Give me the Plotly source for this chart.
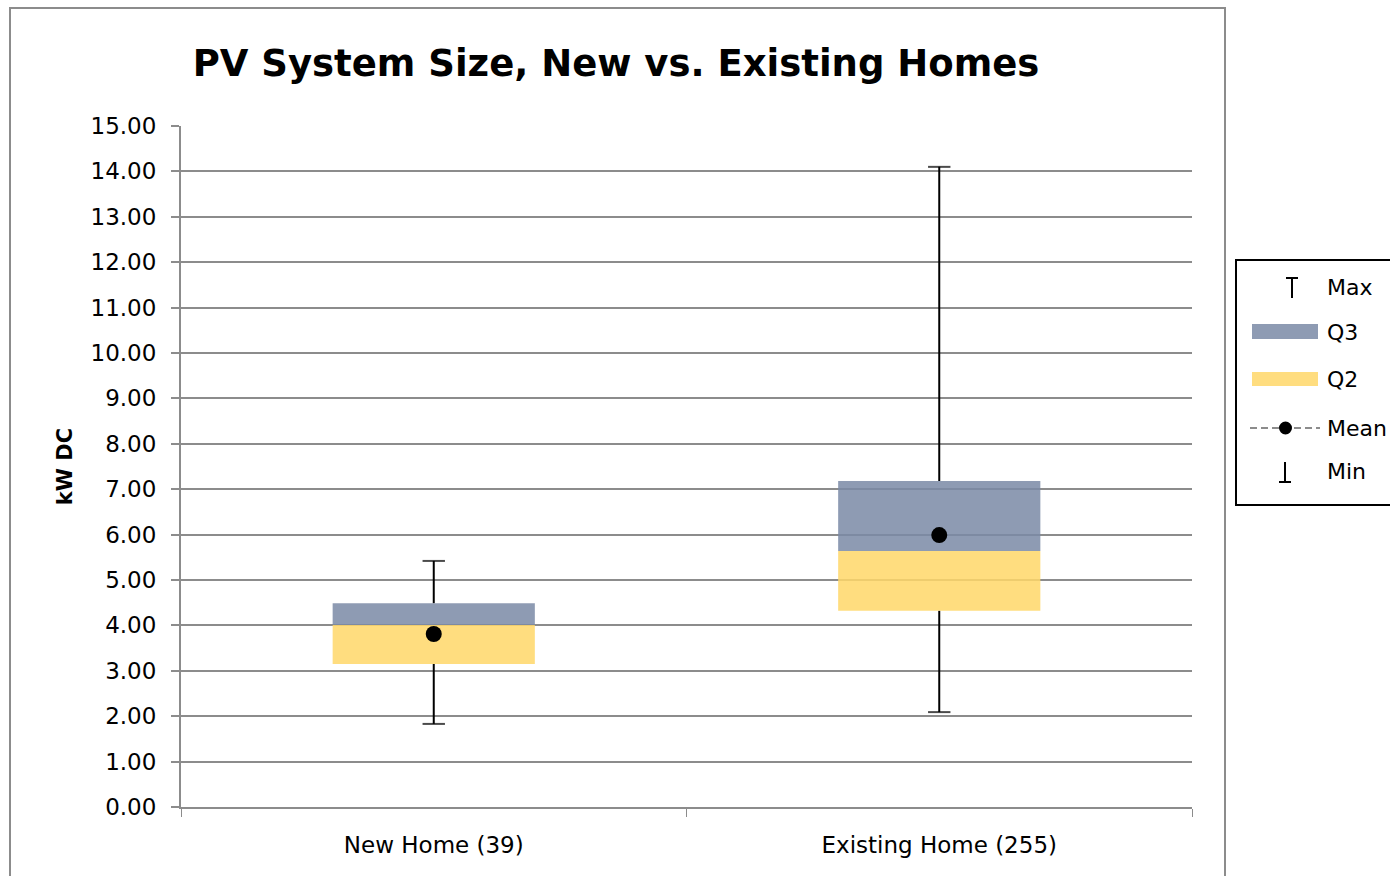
import plotly.graph_objects as go

# Summary statistics of PV system size (kW DC) per home type
categories = ["New Home (39)", "Existing Home (255)"]
min_kw = [1.83, 2.09]
q1_kw = [3.15, 4.32]
median_kw = [4.01, 5.64]
q3_kw = [4.49, 7.18]
max_kw = [5.42, 14.10]
mean_kw = [3.81, 5.99]

y_ticks = [i * 1.0 for i in range(16)]
y_tick_text = [f"{v:.2f}" for v in y_ticks]

FONT = "DejaVu Sans"
W, H = 1390, 876
L, R, T, B = 181, 1192, 126, 807  # plot area in pixels


def px_x(p):
    return (p - L) / (R - L)


def px_y(p):
    return (B - p) / (B - T)


fig = go.Figure()

# Q2 segment (Q1 -> median)
fig.add_trace(go.Bar(
    x=categories, y=[m - q for m, q in zip(median_kw, q1_kw)], base=q1_kw,
    marker=dict(color="#FFD768", line=dict(width=0)), opacity=0.85, width=0.4,
    name="Q2", showlegend=False, hoverinfo="skip"))
# Q3 segment (median -> Q3)
fig.add_trace(go.Bar(
    x=categories, y=[q - m for q, m in zip(q3_kw, median_kw)], base=median_kw,
    marker=dict(color="#7A89A6", line=dict(width=0)), opacity=0.85, width=0.4,
    name="Q3", showlegend=False, hoverinfo="skip"))


# Whiskers with end caps
def whisker(starts, ends, name):
    xs, ys, sizes = [], [], []
    for c, s, e in zip(categories, starts, ends):
        xs += [c, c, None]
        ys += [s, e, None]
        sizes += [0, 16, 0]
    fig.add_trace(go.Scatter(
        x=xs, y=ys, mode="lines+markers", name=name, showlegend=False,
        line=dict(color="black", width=2),
        marker=dict(symbol="line-ew", size=sizes, color="black",
                    line=dict(color="black", width=2)),
        hoverinfo="skip", connectgaps=False))


whisker(q3_kw, max_kw, "Max")
whisker(q1_kw, min_kw, "Min")

# Mean markers
fig.add_trace(go.Scatter(
    x=categories, y=mean_kw, mode="markers", name="Mean", showlegend=False,
    marker=dict(color="black", size=16, symbol="circle")))

shapes = []
annotations = []

# Outer chart border
shapes.append(dict(type="rect", xref="paper", yref="paper",
                   x0=px_x(10), x1=px_x(1225), y0=px_y(884), y1=px_y(8),
                   line=dict(color="#8c8c8c", width=2), fillcolor="rgba(0,0,0,0)"))

# Legend box
shapes.append(dict(type="rect", xref="paper", yref="paper",
                   x0=px_x(1236), x1=px_x(1394), y0=px_y(505), y1=px_y(260),
                   line=dict(color="black", width=2), fillcolor="white"))

legend_rows = [("Max", 287), ("Q3", 332), ("Q2", 379), ("Mean", 428), ("Min", 472)]
gx = 1285  # glyph center
for label, yc in legend_rows:
    annotations.append(dict(xref="paper", yref="paper", x=px_x(1325), y=px_y(yc),
                            text=label, showarrow=False, xanchor="left", yanchor="middle",
                            font=dict(family=FONT, size=22, color="black")))

# Max glyph: T
shapes.append(dict(type="line", xref="paper", yref="paper", x0=px_x(gx + 7), x1=px_x(gx + 7),
                   y0=px_y(298), y1=px_y(278), line=dict(color="black", width=2)))
shapes.append(dict(type="line", xref="paper", yref="paper", x0=px_x(gx + 1), x1=px_x(gx + 13),
                   y0=px_y(278), y1=px_y(278), line=dict(color="black", width=2)))
# Q3 swatch
shapes.append(dict(type="rect", xref="paper", yref="paper", x0=px_x(1252), x1=px_x(1318),
                   y0=px_y(339), y1=px_y(324), line=dict(width=0), fillcolor="#8E9BB3"))
# Q2 swatch
shapes.append(dict(type="rect", xref="paper", yref="paper", x0=px_x(1252), x1=px_x(1318),
                   y0=px_y(386), y1=px_y(372), line=dict(width=0), fillcolor="#FFDD7F"))
# Mean glyph: dashed line + dot
shapes.append(dict(type="line", xref="paper", yref="paper", x0=px_x(1250), x1=px_x(1320),
                   y0=px_y(428), y1=px_y(428), line=dict(color="#8c8c8c", width=2, dash="7px,4px")))
shapes.append(dict(type="circle", xref="paper", yref="paper", x0=px_x(1279), x1=px_x(1292),
                   y0=px_y(434.5), y1=px_y(421.5), line=dict(width=0), fillcolor="black"))
# Min glyph: inverted T
shapes.append(dict(type="line", xref="paper", yref="paper", x0=px_x(gx), x1=px_x(gx),
                   y0=px_y(482), y1=px_y(462), line=dict(color="black", width=2)))
shapes.append(dict(type="line", xref="paper", yref="paper", x0=px_x(gx - 6), x1=px_x(gx + 6),
                   y0=px_y(482), y1=px_y(482), line=dict(color="black", width=2)))

fig.update_layout(
    width=W, height=H,
    margin=dict(l=L, r=W - R, t=T, b=H - B, pad=0),
    paper_bgcolor="white", plot_bgcolor="white",
    font=dict(family=FONT, color="black"),
    barmode="overlay", showlegend=False,
    title=dict(text="<b>PV System Size, New vs. Existing Homes</b>",
               xref="container", yref="container", x=616 / W, y=1 - 63 / H,
               xanchor="center", yanchor="middle",
               font=dict(family=FONT, size=37, color="black")),
    xaxis=dict(type="category", range=[-0.5, 1.5], showgrid=False,
               showline=True, linecolor="#8c8c8c", linewidth=2,
               ticks="outside", tickson="boundaries", ticklen=8, tickcolor="#8c8c8c",
               tickwidth=1, ticklabelstandoff=16,
               tickfont=dict(family=FONT, size=23, color="black")),
    yaxis=dict(range=[0, 15], tickvals=y_ticks, ticktext=y_tick_text,
               showgrid=True, gridcolor="#8c8c8c", gridwidth=2,
               showline=True, linecolor="#8c8c8c", linewidth=2,
               ticks="outside", ticklen=8, tickcolor="#8c8c8c", tickwidth=2,
               ticklabelstandoff=10,
               tickfont=dict(family=FONT, size=23, color="black"),
               zeroline=False,
               title=dict(text="<b>kW DC</b>", standoff=12,
                          font=dict(family=FONT, size=21, color="black"))),
    shapes=shapes, annotations=annotations,
)

fig.write_html("out.html")
